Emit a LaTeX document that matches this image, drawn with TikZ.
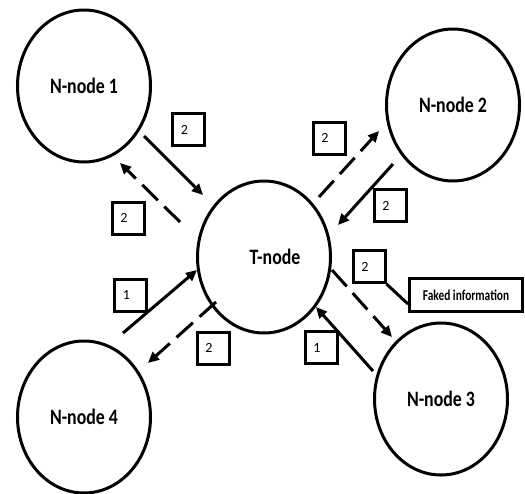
\documentclass[tikz,border=0pt]{standalone}
\usepackage{fontspec}
\setmainfont{Carlito}
\usetikzlibrary{shapes.geometric,arrows.meta,calc}
\newcommand\sqz[2][0.81]{\scalebox{#1}[1]{#2}}
\begin{document}
\begin{tikzpicture}[x=1pt,y=-1pt,
  bignode/.style={ellipse,draw,line width=3pt,minimum width=133pt,minimum height=152pt,inner sep=0pt,font=\bfseries\fontsize{22}{26}\selectfont},
  numbox/.style={draw,line width=3pt,minimum width=32pt,minimum height=32pt,inner sep=0pt,font=\fontsize{14}{16}\selectfont},
  infobox/.style={draw,line width=3pt,minimum width=113pt,minimum height=33pt,inner sep=0pt,font=\bfseries\fontsize{15}{18}\selectfont},
  msg/.style={line width=3pt,-{Triangle[length=11pt,width=10pt]}},
  fake/.style={msg,dash pattern=on 22pt off 9pt},
  link/.style={line width=3pt}
]
\useasboundingbox (0,0) rectangle (525,493);
% main nodes
\node[bignode] (n1) at (84,86) {\sqz{N-node 1}};
\node[bignode] (n2) at (453,105) {\sqz{N-node 2}};
\node[bignode] (t) at (264,257) {\hspace*{22pt}\sqz{T-node}};
\node[bignode] (n3) at (441,399) {\sqz{N-node 3}};
\node[bignode] (n4) at (84,417) {\sqz{N-node 4}};
% number boxes
\node[numbox] (b1) at (188.5,129.5) {2\hspace*{8pt}};
\node[numbox] (b2) at (128,218) {2\hspace*{8pt}};
\node[numbox] (b3) at (329,138) {2\hspace*{8pt}};
\node[numbox] (b4) at (390,205.5) {2\hspace*{8pt}};
\node[numbox] (b5) at (130.5,295) {1\hspace*{8pt}};
\node[numbox] (b6) at (213,348) {2\hspace*{8pt}};
\node[numbox] (b7) at (321,347.5) {1\hspace*{8pt}};
\node[numbox] (b8) at (369,266.5) {2\hspace*{8pt}};
\node[infobox] (info) at (466,295) {\sqz[0.76]{Faked information}};
% arrow end points
\coordinate (a1s) at (144,136); \coordinate (a1e) at (203,195);
\coordinate (a2s) at (180,222); \coordinate (a2e) at (120,163);
\coordinate (a3s) at (319,197); \coordinate (a3e) at (379,131);
\coordinate (a4s) at (393,164); \coordinate (a4e) at (338,225);
\coordinate (a5s) at (123,333); \coordinate (a5e) at (197,270);
\coordinate (a6s) at (216,302); \coordinate (a6e) at (148,363);
\coordinate (a7s) at (332,270); \coordinate (a7e) at (392,337);
\coordinate (a8s) at (373,371); \coordinate (a8e) at (316,307);
% connectors
\draw[msg] (a1s) -- (a1e);
\draw[fake] (a2s) -- (a2e);
\draw[fake] (a3s) -- (a3e);
\draw[msg] (a4s) -- (a4e);
\draw[msg] (a5s) -- (a5e);
\draw[fake] (a6s) -- (a6e);
\draw[fake] (a7s) -- (a7e);
\draw[msg] (a8s) -- (a8e);
\draw[link] (b8.south east) -- ($(info.south west)!0.25!(info.north west)$);
\end{tikzpicture}
\end{document}
